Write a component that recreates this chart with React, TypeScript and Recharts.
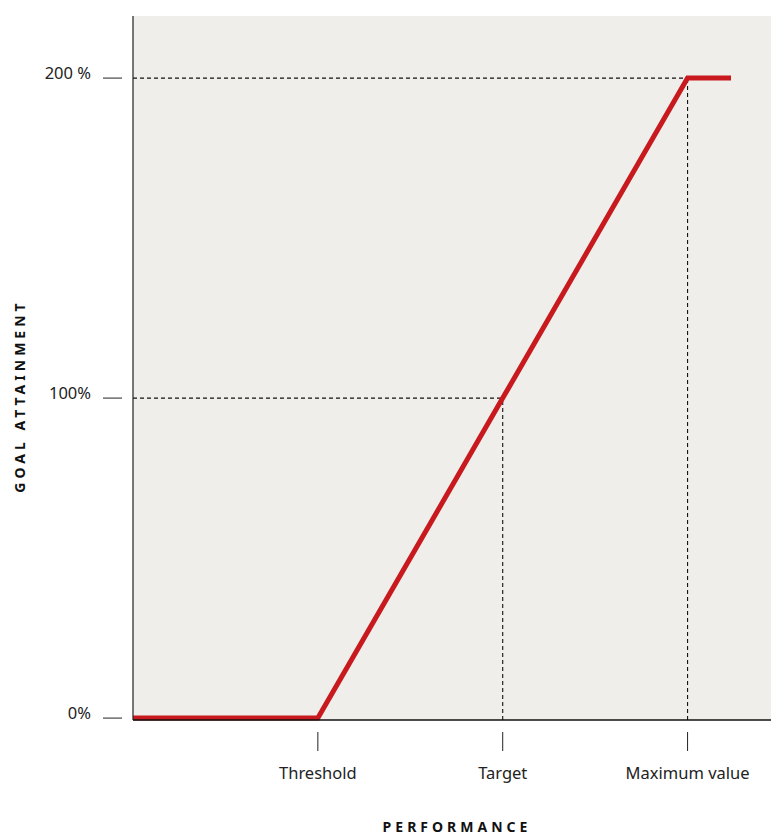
import React from 'react';
import {
  LineChart,
  Line,
  XAxis,
  YAxis,
  CartesianGrid,
  ReferenceLine,
} from 'recharts';

// performance positions (threshold = 1, target = 2, maximum = 3)
const performance = [0, 1, 2, 3, 3.235];
const attainment = [0, 0, 100, 200, 200];

const xTicks = [1, 2, 3];
const xTickLabels = ['Threshold', 'Target', 'Maximum value'];
const yTicks = [0, 100, 200];
const yTickLabels = ['0%', '100%', '200 %'];

const data = performance.map((p, i) => ({ p, v: attainment[i] }));

const FONT = '"Noto Sans", sans-serif';
const INK = '#222';

const YTick = ({ y, payload }: any) => {
  const idx = yTicks.indexOf(payload.value);
  return (
    <g>
      <line x1={103} x2={122} y1={y} y2={y} stroke={INK} strokeWidth={1} />
      <text
        x={91}
        y={y - 6}
        textAnchor="end"
        dominantBaseline="central"
        fontFamily={FONT}
        fontSize={16.5}
        fill={INK}
      >
        {yTickLabels[idx]}
      </text>
    </g>
  );
};

const XTick = ({ x, payload }: any) => {
  const idx = xTicks.indexOf(payload.value);
  return (
    <g>
      <line x1={x} x2={x} y1={732} y2={751} stroke={INK} strokeWidth={1} />
      <text
        x={x}
        y={772}
        textAnchor="middle"
        dominantBaseline="central"
        fontFamily={FONT}
        fontSize={16.5}
        fill={INK}
      >
        {xTickLabels[idx]}
      </text>
    </g>
  );
};

const dash = { stroke: '#111', strokeWidth: 1.1, strokeDasharray: '4 3' };

export default function App() {
  return (
    <div
      style={{
        position: 'absolute',
        left: 0,
        top: 0,
        width: 771,
        height: 834,
        overflow: 'hidden',
        background: '#fff',
      }}
    >
      <LineChart
        width={790}
        height={834}
        data={data}
        margin={{ top: 16, right: 10, bottom: 0, left: 0 }}
      >
        <CartesianGrid fill="#f0eeea" stroke="none" horizontal={false} vertical={false} />
        <XAxis
          dataKey="p"
          type="number"
          domain={[0, 3.5]}
          ticks={xTicks}
          tick={<XTick />}
          tickLine={false}
          axisLine={{ stroke: '#111', strokeWidth: 1.3 }}
          height={114}
          label={{
            content: () => (
              <text
                x={457}
                y={826}
                textAnchor="middle"
                dominantBaseline="central"
                fontFamily={FONT}
                fontSize={14}
                fontWeight={700}
                letterSpacing={4}
                fill="#111"
              >
                PERFORMANCE
              </text>
            ),
          }}
        />
        <XAxis
          xAxisId="top"
          orientation="top"
          dataKey="p"
          type="number"
          domain={[0, 3.5]}
          tick={false}
          tickLine={false}
          axisLine={{ stroke: INK, strokeWidth: 1.2 }}
          height={0}
        />
        <YAxis
          type="number"
          domain={[-0.6, 219.4]}
          ticks={yTicks}
          tick={<YTick />}
          tickLine={false}
          axisLine={{ stroke: INK, strokeWidth: 1.2 }}
          width={133}
          label={{
            content: () => (
              <text
                x={19}
                y={396}
                textAnchor="middle"
                dominantBaseline="central"
                transform="rotate(-90 19 396)"
                fontFamily={FONT}
                fontSize={14}
                fontWeight={700}
                letterSpacing={4}
                fill="#111"
              >
                GOAL ATTAINMENT
              </text>
            ),
          }}
        />
        <ReferenceLine segment={[{ x: 0, y: 100 }, { x: 2, y: 100 }]} {...dash} />
        <ReferenceLine segment={[{ x: 0, y: 200 }, { x: 3, y: 200 }]} {...dash} />
        <ReferenceLine segment={[{ x: 2, y: -0.6 }, { x: 2, y: 100 }]} {...dash} />
        <ReferenceLine segment={[{ x: 3, y: -0.6 }, { x: 3, y: 200 }]} {...dash} />
        <Line
          type="linear"
          dataKey="v"
          stroke="#c8191e"
          strokeWidth={5}
          strokeLinecap="butt"
          strokeLinejoin="miter"
          dot={false}
          activeDot={false}
          isAnimationActive={false}
        />
      </LineChart>
    </div>
  );
}
